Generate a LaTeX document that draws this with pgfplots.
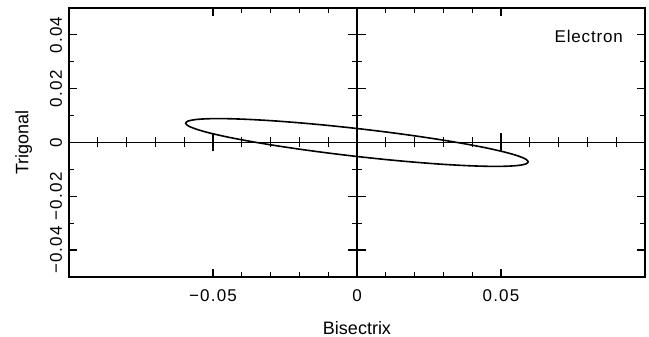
\documentclass[border=0pt]{standalone}
\usepackage{pgfplots}
\pgfplotsset{compat=1.18}
\usepackage{fontspec}
\setmainfont{Liberation Sans}
\begin{document}
\begin{tikzpicture}
\useasboundingbox (-34.5pt,-30pt) rectangle (290pt,138.5pt);
\begin{axis}[
  at={(0,0)}, anchor=south west,
  scale only axis, width=288pt, height=134.5pt,
  xmin=-0.1, xmax=0.1, ymin=-0.05, ymax=0.05,
  scaled ticks=false,
  xtick={-0.05,0,0.05}, xticklabels={−0.05,0,0.05},
  minor x tick num=4,
  ytick={-0.04,-0.02,0,0.02,0.04}, yticklabels={−0.04,−0.02,0,0.02,0.04},
  minor y tick num=1,
  tick align=inside,
  major tick length=4pt, minor tick length=2.5pt,
  axis line style={line width=0.9pt},
  every tick/.style={black, line width=0.6pt},
  ticklabel style={font=\fontsize{8.5}{9}\selectfont\addfontfeature{LetterSpace=7}},
  yticklabel style={rotate=90, anchor=south, yshift=0pt},
  xticklabel style={yshift=-3pt},
  xlabel={Bisectrix}, ylabel={Trigonal},
  label style={font=\fontsize{9}{10}\selectfont},
  xlabel style={yshift=-3pt},
  ylabel style={yshift=2pt},
  clip=false,
]
\addplot[black, line width=0.8pt, smooth] coordinates {
(0.05950,-0.007200) (0.05860,-0.006188) (0.05591,-0.004988) (0.05153,-0.003635)
(0.04558,-0.002172) (0.03825,-0.000645) (0.02975,0.000903) (0.02035,0.002424)
(0.01033,0.003871) (0,0.005200) (-0.01033,0.006371) (-0.02035,0.007348)
(-0.02975,0.008103) (-0.03825,0.008611) (-0.04558,0.008858) (-0.05153,0.008835)
(-0.05591,0.008544) (-0.05860,0.007994) (-0.05950,0.007200) (-0.05860,0.006188)
(-0.05591,0.004988) (-0.05153,0.003635) (-0.04558,0.002172) (-0.03825,0.000645)
(-0.02975,-0.000903) (-0.02035,-0.002424) (-0.01033,-0.003871) (0,-0.005200)
(0.01033,-0.006371) (0.02035,-0.007348) (0.02975,-0.008103) (0.03825,-0.008611)
(0.04558,-0.008858) (0.05153,-0.008835) (0.05591,-0.008544) (0.05860,-0.007994)
(0.05950,-0.007200)
};
\node[anchor=east, font=\fontsize{8.5}{10}\selectfont\addfontfeature{LetterSpace=5}] at (axis cs:0.0948,0.0393) {Electron};
\end{axis}
\begin{axis}[
  at={(0,0)}, anchor=south west,
  scale only axis, width=288pt, height=134.5pt,
  xmin=-0.1, xmax=0.1, ymin=-0.05, ymax=0.05,
  scaled ticks=false,
  axis lines=middle,
  x axis line style={-, line width=0.9pt},
  y axis line style={-, line width=0.9pt},
  xtick={-0.05,0,0.05}, minor xtick={-0.09,-0.08,-0.07,-0.06,-0.04,-0.03,-0.02,-0.01,0.01,0.02,0.03,0.04,0.06,0.07,0.08,0.09},
  ytick={-0.04,-0.02,0,0.02,0.04}, minor ytick={-0.03,-0.01,0.01,0.03},
  xmajorticks=true, ymajorticks=true, xminorticks=true, yminorticks=true,
  xticklabels={}, yticklabels={},
  tick align=center,
  major tick length=9pt, minor tick length=5pt,
  every tick/.style={black, line width=0.6pt},
]
\end{axis}
\end{tikzpicture}
\end{document}
